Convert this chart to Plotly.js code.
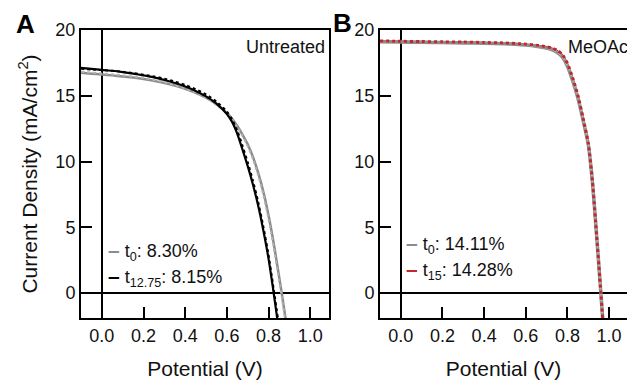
<!DOCTYPE html>
<html>
<head>
<meta charset="utf-8">
<script src="https://cdn.plot.ly/plotly-3.0.1.min.js"></script>
<style>html,body{margin:0;padding:0;background:#fff;}#chart{width:627px;height:380px;}</style>
</head>
<body>
<div id="chart"></div>
<script>
// ---- Panel A (Untreated) ----
const vA_t0 = [-0.1,-0.05,0,0.05,0.1,0.15,0.2,0.25,0.3,0.35,0.4,0.45,0.5,0.55,0.6,0.625,0.65,0.675,0.7,0.725,0.75,0.775,0.8,0.825,0.85,0.865,0.885];
const jA_t0_scan1 = [16.74,16.68,16.62,16.55,16.47,16.38,16.27,16.13,15.97,15.77,15.52,15.22,14.85,14.35,13.7,13.25,12.7,12.05,11.3,10.35,9.15,7.7,5.9,3.75,1.3,-0.2,-2.3];
const jA_t0_scan2 = [16.82,16.76,16.7,16.63,16.55,16.46,16.35,16.2,16.03,15.82,15.56,15.24,14.85,14.32,13.65,13.18,12.6,11.93,11.15,10.18,8.95,7.45,5.6,3.45,1.0,-0.5,-2.6];

const vA_t1 = [-0.1,-0.05,0,0.05,0.1,0.15,0.2,0.25,0.3,0.35,0.4,0.45,0.5,0.55,0.6,0.625,0.65,0.675,0.7,0.725,0.75,0.775,0.8,0.82,0.845];
const jA_t1_scan1 = [17.12,17.05,16.97,16.9,16.8,16.68,16.55,16.4,16.2,15.97,15.7,15.37,14.95,14.4,13.6,13.0,12.1,10.9,9.65,8.25,6.65,4.75,2.6,0.5,-2.3];
const jA_t1_scan2 = [17.05,17.0,16.95,16.9,16.82,16.72,16.6,16.47,16.3,16.08,15.82,15.5,15.1,14.55,13.8,13.2,12.35,11.2,9.95,8.55,6.95,5.05,2.9,0.8,-1.9];

// ---- Panel B (MeOAc) ----
const vB = [-0.1,0,0.1,0.2,0.3,0.4,0.5,0.55,0.6,0.65,0.7,0.725,0.75,0.775,0.8,0.825,0.85,0.875,0.9,0.92,0.94,0.955,0.97];
const jB_t0_scan1 = [19.1,19.08,19.06,19.04,19.02,18.99,18.95,18.91,18.85,18.76,18.62,18.5,18.3,17.95,17.25,16.15,14.85,13.15,11.3,8.45,4.4,1.2,-2.1];
const jB_t0_scan2 = [19.13,19.1,19.08,19.06,19.04,19.01,18.97,18.93,18.87,18.78,18.65,18.53,18.34,18.0,17.3,16.2,14.9,13.2,11.3,8.4,4.35,1.15,-2.15];
const jB_t15_scan1 = [19.15,19.12,19.1,19.08,19.06,19.03,18.99,18.95,18.9,18.82,18.7,18.6,18.42,18.1,17.4,16.3,14.95,13.2,11.3,8.4,4.3,1.1,-2.2];
const jB_t15_scan2 = [19.17,19.14,19.12,19.1,19.08,19.05,19.01,18.97,18.92,18.85,18.73,18.63,18.46,18.15,17.47,16.38,15.05,13.3,11.4,8.5,4.4,1.2,-2.1];

// ---- labels ----
const xTickVals = [0,0.2,0.4,0.6,0.8,1.0];
const xTickText = ['0.0','0.2','0.4','0.6','0.8','1.0'];
const yTickVals = [0,5,10,15,20];
const yTickText = ['0','5','10','15','20'];
const legendA = ['t<sub>0</sub>: 8.30%','t<sub>12.75</sub>: 8.15%'];
const legendB = ['t<sub>0</sub>: 14.11%','t<sub>15</sub>: 14.28%'];

const F = '"Liberation Sans", Arial, Helvetica, sans-serif';
const GRAY = '#8c8c8c', GRAYL = '#b4b4b4', BLACK = '#000000', RED = '#c1272d';
const W = 627, H = 380;

function tr(x, y, xa, ya, color, width, dash) {
  return {x: x, y: y, xaxis: xa, yaxis: ya, type: 'scatter', mode: 'lines',
          line: {color: color, width: width, dash: dash || 'solid', shape: 'spline', smoothing: 0.6},
          showlegend: false, hoverinfo: 'skip'};
}

const data = [
  tr(vA_t0, jA_t0_scan1, 'x', 'y', GRAY, 2.5),
  tr(vA_t0, jA_t0_scan2, 'x', 'y', GRAYL, 2, 'dot'),
  tr(vA_t1, jA_t1_scan1, 'x', 'y', BLACK, 2.2),
  tr(vA_t1, jA_t1_scan2, 'x', 'y', BLACK, 2, 'dot'),
  tr(vB, jB_t15_scan1, 'x2', 'y2', RED, 2),
  tr(vB, jB_t0_scan1, 'x2', 'y2', GRAY, 3.5),
  tr(vB, jB_t0_scan2, 'x2', 'y2', GRAYL, 2, 'dot'),
  tr(vB, jB_t15_scan2, 'x2', 'y2', RED, 3, 'dot')
];

const axBase = {
  showline: true, linecolor: '#000', linewidth: 2,
  ticks: 'inside', ticklen: 11, tickwidth: 2, tickcolor: '#000',
  zeroline: true, zerolinecolor: '#000', zerolinewidth: 2,
  showgrid: false, fixedrange: true,
  tickfont: {family: F, size: 18, color: '#111'}
};
const yDom = [1 - 318 / H, 1 - 30 / H];
const titleFont = {family: F, size: 21, color: '#111'};

function legendItem(color, label, xPx, yPx) {
  return {text: '<span style="color:' + color + ';font-size:21px"><b>–</b></span> ' + label,
          x: xPx / W, y: 1 - yPx / H, xref: 'paper', yref: 'paper', showarrow: false,
          xanchor: 'left', yanchor: 'middle', font: {family: F, size: 18, color: '#111'}};
}

const layout = {
  width: W, height: H,
  margin: {l: 0, r: 0, t: 0, b: 0},
  paper_bgcolor: '#fff', plot_bgcolor: '#fff',
  font: {family: F, size: 18, color: '#111'},
  showlegend: false,
  xaxis: Object.assign({}, axBase, {
    domain: [81 / W, 329 / W], range: [-0.1, 1.09], anchor: 'y',
    tickmode: 'array', tickvals: xTickVals, ticktext: xTickText, mirror: true,
    title: {text: 'Potential (V)', font: titleFont, standoff: 18}
  }),
  yaxis: Object.assign({}, axBase, {
    domain: yDom, range: [-1.9, 20], anchor: 'x',
    tickmode: 'array', tickvals: yTickVals, ticktext: yTickText, mirror: true,
    title: {text: 'Current Density (mA/cm<sup>2</sup>)', font: titleFont, standoff: 12}
  }),
  xaxis2: Object.assign({}, axBase, {
    domain: [380 / W, 1], range: [-0.1, 1.086], anchor: 'y2',
    tickmode: 'array', tickvals: xTickVals, ticktext: xTickText, mirror: true,
    title: {text: 'Potential (V)', font: titleFont, standoff: 18}
  }),
  yaxis2: Object.assign({}, axBase, {
    domain: yDom, range: [-1.9, 20], anchor: 'x2',
    tickmode: 'array', tickvals: yTickVals, ticktext: yTickText, mirror: false
  }),
  annotations: [
    {text: '<b>A</b>', x: 25 / W, y: 1 - 24 / H, xref: 'paper', yref: 'paper', showarrow: false,
     xanchor: 'center', yanchor: 'middle', font: {family: F, size: 26, color: '#000'}},
    {text: '<b>B</b>', x: 342 / W, y: 1 - 23 / H, xref: 'paper', yref: 'paper', showarrow: false,
     xanchor: 'center', yanchor: 'middle', font: {family: F, size: 26, color: '#000'}},
    {text: 'Untreated', x: 327 / W, y: 1 - 47 / H, xref: 'paper', yref: 'paper', showarrow: false,
     xanchor: 'right', yanchor: 'middle', font: {family: F, size: 18, color: '#111'}},
    {text: 'MeOAc', x: 566 / W, y: 1 - 47 / H, xref: 'paper', yref: 'paper', showarrow: false,
     xanchor: 'left', yanchor: 'middle', font: {family: F, size: 18, color: '#111'}},
    legendItem(GRAY, legendA[0], 106, 251),
    legendItem(BLACK, legendA[1], 106, 277),
    legendItem(GRAY, legendB[0], 404, 244),
    legendItem(RED, legendB[1], 404, 270)
  ]
};

Plotly.newPlot('chart', data, layout, {staticPlot: true, displayModeBar: false});
</script>
</body>
</html>
